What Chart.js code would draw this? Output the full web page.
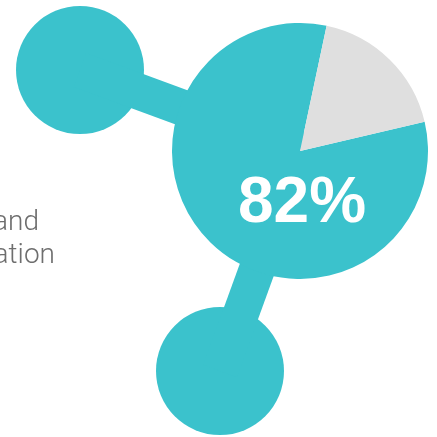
<!DOCTYPE html>
<html>
<head>
<meta charset="utf-8">
<script src="https://cdn.jsdelivr.net/npm/chart.js@4"></script>
<style>
  html, body { margin: 0; padding: 0; background: #fff; }
  #wrap { position: relative; width: 437px; height: 437px; overflow: hidden; }
  #net { position: absolute; left: 0; top: 0; }
  #pie { position: absolute; left: 172px; top: 23px; }
</style>
</head>
<body>
<div id="wrap">
  <canvas id="net" width="437" height="437"></canvas>
  <canvas id="pie" width="256" height="256"></canvas>
</div>
<script>
// pie values (percent)
var pieLabels = ["Done", "Remaining"];
var pieValues = [82, 18];

// network nodes: hub (pie centre) and two satellites
var nodeX = [300, 80, 220];
var nodeY = [151, 70, 371];
var links = [[1, 0], [2, 0]];

// side caption (cut off at the left edge)
var captionLines = ["and", "ation"];

var teal = "#3bc2cc";
var grey = "#dfdfdf";

var ctx_net = document.getElementById("net");
var ctx_pie = document.getElementById("pie");

network_chart();
pie_chart();

function network_chart(){
    var datasets = [];
    links.forEach(function(l){
        datasets.push({
            type: 'line',
            showLine: true,
            data: [{x: nodeX[l[0]], y: nodeY[l[0]]}, {x: nodeX[l[1]], y: nodeY[l[1]]}],
            borderColor: teal,
            borderWidth: 36,
            borderCapStyle: 'butt',
            fill: false,
            pointRadius: 0,
            clip: false
        });
    });
    datasets.push({
        type: 'line',
        showLine: false,
        data: [1, 2].map(function(i){ return {x: nodeX[i], y: nodeY[i]}; }),
        backgroundColor: teal,
        pointBackgroundColor: teal,
        pointRadius: 64,
        pointBorderWidth: 0,
        clip: false
    });

    // caption runs in from beyond the left edge, so anchor it on its right end
    var captionPlugin = {
        id: 'caption',
        afterDraw: function(chart){
            var c = chart.ctx;
            c.save();
            c.font = "300 28px Roboto";
            c.fillStyle = "#6e6e6e";
            c.textAlign = "right";
            c.textBaseline = "alphabetic";
            c.fillText(captionLines[0], 39, 230);
            c.fillText(captionLines[1], 55, 262.5);
            c.restore();
        }
    };

    new Chart(ctx_net, {
        type: 'line',
        data: {datasets: datasets},
        options: {
            responsive: false,
            animation: false,
            events: [],
            layout: {padding: 0, autoPadding: false},
            plugins: {legend: {display: false}, tooltip: {enabled: false}},
            scales: {
                x: {type: 'linear', display: false, min: 0, max: 437},
                y: {type: 'linear', display: false, min: 0, max: 437, reverse: true}
            }
        },
        plugins: [captionPlugin]
    });
}

function pie_chart(){
    var centreText = {
        id: 'centreText',
        afterDraw: function(chart){
            var arc = chart.getDatasetMeta(0).data[0];
            var c = chart.ctx;
            c.save();
            c.font = "bold 64px 'Liberation Sans'";
            c.fillStyle = "#ffffff";
            c.textAlign = "center";
            c.textBaseline = "alphabetic";
            c.fillText(pieValues[0] + "%", arc.x + 2, arc.y + 71);
            c.restore();
        }
    };

    new Chart(ctx_pie, {
        type: 'pie',
        data: {
            labels: pieLabels,
            datasets: [{
                data: pieValues,
                backgroundColor: [teal, grey],
                borderWidth: 0
            }]
        },
        options: {
            responsive: false,
            animation: false,
            events: [],
            rotation: 76.8,
            layout: {padding: 0},
            plugins: {legend: {display: false}, tooltip: {enabled: false}}
        },
        plugins: [centreText]
    });
}
</script>
</body>
</html>
